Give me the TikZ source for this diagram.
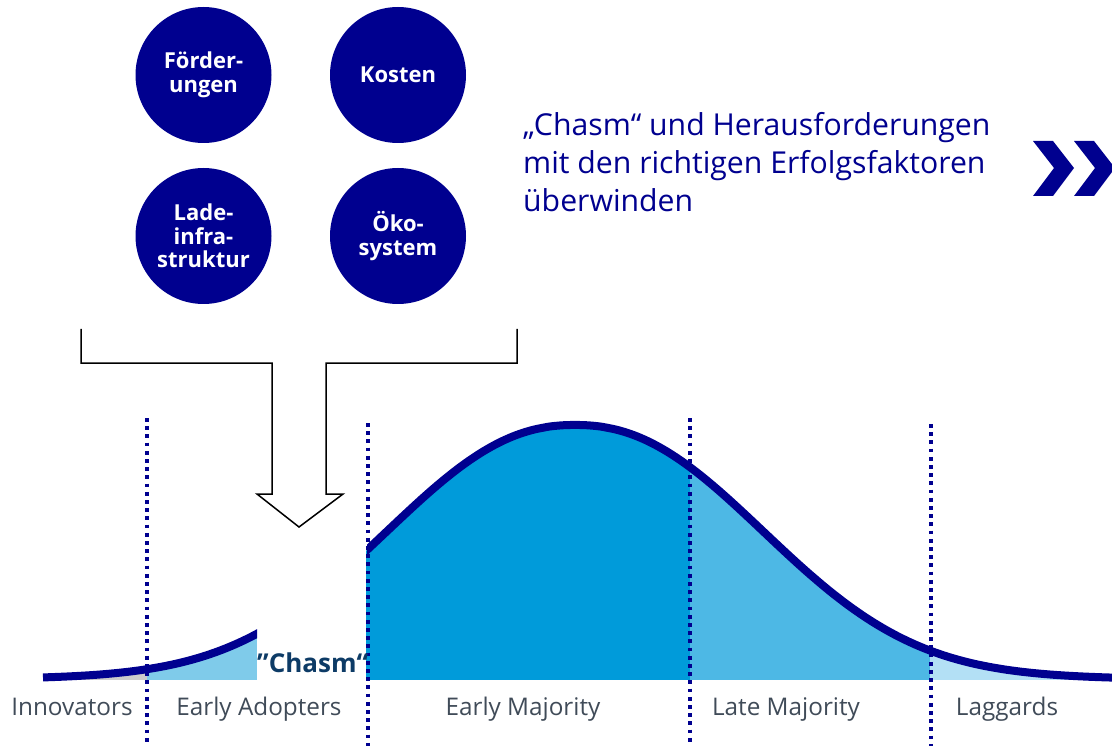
\documentclass[tikz,border=0pt]{standalone}
\usepackage{fontspec}
\setmainfont{Open Sans}
\definecolor{navy}{RGB}{0,0,143}
\definecolor{emaj}{RGB}{0,155,218}
\definecolor{lmaj}{RGB}{77,184,229}
\definecolor{lagg}{RGB}{179,224,245}
\definecolor{eadop}{RGB}{127,203,234}
\definecolor{innov}{RGB}{204,204,204}
\definecolor{chasmc}{RGB}{13,59,102}
\definecolor{labc}{RGB}{64,75,88}
\begin{document}
\begin{tikzpicture}[x=1pt,y=-1pt,
  declare function={bell(\t)=680-245*exp(-(pow(abs(\t-575)/245+0.0001,2.23)))-10*exp(-((\t-575)/400)*((\t-575)/400));},
  circ/.style={circle, fill=navy, minimum size=136pt, inner sep=0pt, text=white,
    font=\bfseries\fontsize{22}{23.5}\selectfont, align=center},
  headline/.style={anchor=base west, inner sep=0pt, text=navy, font=\fontsize{30.2}{38}\selectfont},
  lab/.style={anchor=base, inner sep=0pt, text=labc, font=\fontsize{24.3}{28}\selectfont},
  dotline/.style={draw=navy, line width=3.6pt, dash pattern=on 3.8pt off 4.4pt},
  curve/.style={draw=navy, line width=8pt, line cap=butt},
  chev/.style={fill=navy}]
\useasboundingbox (0,0) rectangle (1112,746);

% circles
\node[circ] (c1) at (203.5,75) {Förder-\\ungen};
\node[circ] (c2) at (398,75) {Kosten};
\node[circ] (c3) at (203.5,236) {Lade-\\infra-\\struktur};
\node[circ] (c4) at (398,236) {Öko-\\system};

% headline
\node[headline] (t1) at (523,136) {„Chasm“ und Herausforderungen};
\node[headline] (t2) at (523,174) {mit den richtigen Erfolgsfaktoren};
\node[headline] (t3) at (523,212) {überwinden};

% chevrons
\fill[chev] (1033,141) -- (1053,141) -- (1074,168) -- (1053,196) -- (1033,196) -- (1054,168) -- cycle;
\fill[chev] (1074,141) -- (1094,141) -- (1115,168) -- (1094,196) -- (1074,196) -- (1095,168) -- cycle;

% bracket arrow
\draw[line width=1.5pt, line join=miter] (81,329) -- (81,363) -- (272,363) -- (272,494) -- (257,494)
  -- (299,527) -- (343,494) -- (326,494) -- (326,363) -- (517,363) -- (517,329);

% fills under the curve
\begin{scope}
\clip plot[domain=43:1112, samples=215, smooth] (\x,{bell(\x)}) -- (1112,680) -- (43,680) -- cycle;
\fill[innov] (43,400) rectangle (147,680);
\fill[eadop] (147,400) rectangle (257,680);
\fill[emaj] (366,400) rectangle (690,680);
\fill[lmaj] (690,400) rectangle (930,680);
\fill[lagg] (930,400) rectangle (1112,680);
\end{scope}

% curve strokes
\path[save path=\bellcurve] plot[domain=43:1112, samples=215, smooth] (\x,{bell(\x)});
\begin{scope}
\clip (0,380) rectangle (257,700);
\draw[curve, use path=\bellcurve];
\end{scope}
\begin{scope}
\clip (367,380) rectangle (1112,700);
\draw[curve, use path=\bellcurve];
\end{scope}

% dotted separators
\draw[dotline] (147,418) -- (147,746);
\draw[dotline] (368,423) -- (368,746);
\draw[dotline] (690,418) -- (690,746);
\draw[dotline] (931,424) -- (931,746);

% chasm label
\node[anchor=base west, inner sep=0pt, text=chasmc, font=\bfseries\fontsize{26}{30}\selectfont] (chasm) at (257,672) {”Chasm“};

% group labels
\node[lab] (l1) at (72,715) {Innovators};
\node[lab] (l2) at (259,715) {Early Adopters};
\node[lab] (l3) at (523,715) {Early Majority};
\node[lab] (l4) at (786,715) {Late Majority};
\node[lab] (l5) at (1007,715) {Laggards};
\end{tikzpicture}
\end{document}
